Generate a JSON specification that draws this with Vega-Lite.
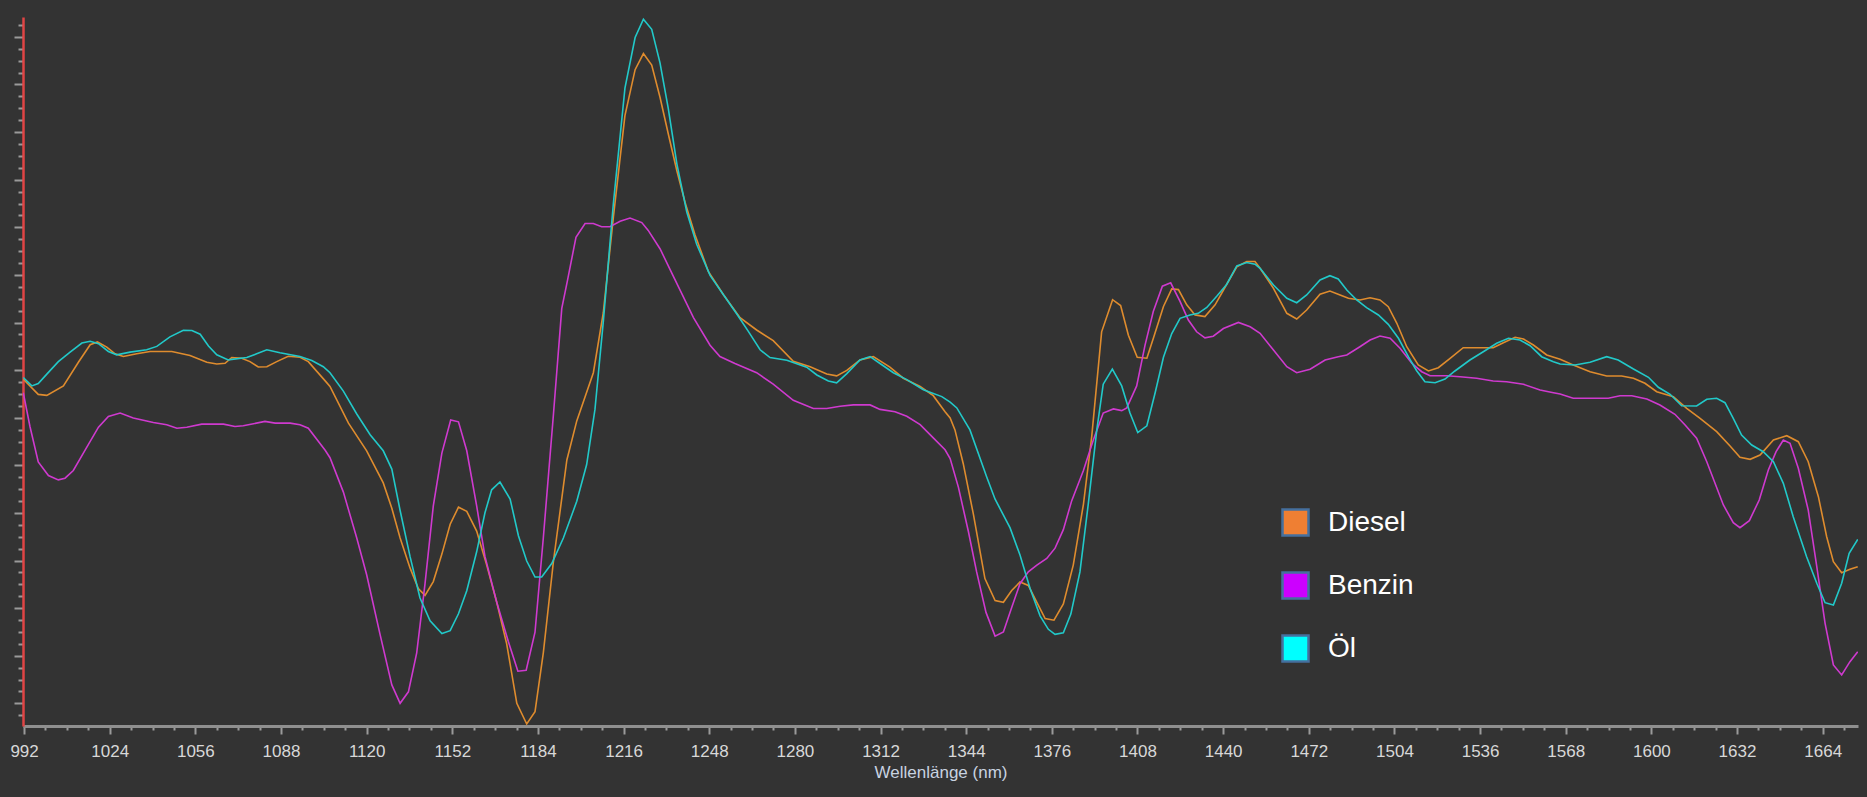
{
"$schema": "https://vega.github.io/schema/vega-lite/v6.json",
"width": 1835, "height": 709,
"autosize": {"type": "none"},
"padding": {"left": 23, "top": 17, "right": 9, "bottom": 71},
"background": "#333333",
"config": {"view": {"stroke": null}, "font": "Liberation Sans"},
"datasets": {
"diesel": [
{"w":991.7,"v":346.8},{"w":997.3,"v":331.6},{"w":1000.5,"v":330.6},{"w":1006.7,"v":340.1},{"w":1012.3,"v":363.7},{"w":1016.7,"v":381.3},{"w":1019.4,"v":384},{"w":1022.9,"v":378.9},{"w":1026,"v":372.2},{"w":1029.1,"v":369.5},{"w":1034.1,"v":372.2},{"w":1039.1,"v":374.5},{"w":1047.2,"v":374.5},{"w":1054,"v":370.5},{"w":1060.3,"v":363.7},{"w":1064,"v":362},{"w":1067.1,"v":362.7},{"w":1069.6,"v":368.5},{"w":1073.3,"v":367.8},{"w":1076.4,"v":364.4},{"w":1079.5,"v":359},{"w":1082.7,"v":359.3},{"w":1086.4,"v":364.4},{"w":1090.7,"v":369.8},{"w":1095.1,"v":368.8},{"w":1098.2,"v":364.4},{"w":1104.5,"v":345.1},{"w":1106.3,"v":339.5},{"w":1113.2,"v":302.8},{"w":1120,"v":275.2},{"w":1126.2,"v":243.1},{"w":1129.4,"v":217.8},{"w":1132.5,"v":188},{"w":1136.2,"v":158.1},{"w":1139.3,"v":137.5},{"w":1141.8,"v":130.6},{"w":1144.9,"v":144.4},{"w":1148.1,"v":171.9},{"w":1151.2,"v":201.8},{"w":1154.3,"v":218.8},{"w":1157.4,"v":214.6},{"w":1161.1,"v":194.9},{"w":1164.9,"v":160.4},{"w":1168.6,"v":123.7},{"w":1172.3,"v":82.4},{"w":1176.1,"v":22.7},{"w":1179.8,"v":2},{"w":1182.9,"v":14.4},{"w":1186,"v":73.2},{"w":1189.8,"v":165},{"w":1194.8,"v":266},{"w":1198.5,"v":305.1},{"w":1204.7,"v":353.3},{"w":1208.4,"v":413},{"w":1212.2,"v":509.4},{"w":1216.5,"v":610.4},{"w":1220.3,"v":656.3},{"w":1223.4,"v":672.4},{"w":1226.5,"v":660.9},{"w":1229.6,"v":628.8},{"w":1232.7,"v":592},{"w":1235.9,"v":555.3},{"w":1239,"v":523.2},{"w":1242.7,"v":491},{"w":1247.7,"v":454.3},{"w":1253.3,"v":431.3},{"w":1259.5,"v":408.4},{"w":1265.7,"v":396},{"w":1271.9,"v":385.4},{"w":1279.4,"v":364.8},{"w":1285.7,"v":359.3},{"w":1291.9,"v":351.9},{"w":1295.6,"v":350.1},{"w":1299.4,"v":355.6},{"w":1304.3,"v":366.1},{"w":1309.3,"v":369.4},{"w":1315.5,"v":358.8},{"w":1320.5,"v":347.8},{"w":1326.8,"v":339.5},{"w":1331.7,"v":330.3},{"w":1336.1,"v":314.3},{"w":1338,"v":308},{"w":1339.8,"v":296.1},{"w":1342.9,"v":262.3},{"w":1346.7,"v":211.6},{"w":1351,"v":147.4},{"w":1354.8,"v":125.4},{"w":1357.9,"v":123.7},{"w":1361,"v":135.5},{"w":1364.1,"v":144},{"w":1367.2,"v":140.6},{"w":1370.4,"v":123.7},{"w":1373.5,"v":107.5},{"w":1376.8,"v":105.8},{"w":1380.3,"v":122},{"w":1384,"v":160.9},{"w":1387.8,"v":221.7},{"w":1390.9,"v":289.4},{"w":1394.6,"v":394.2},{"w":1398.7,"v":426.3},{"w":1401.7,"v":420.5},{"w":1404.6,"v":390.8},{"w":1407.9,"v":368.8},{"w":1411.5,"v":367.8},{"w":1413.9,"v":387.4},{"w":1417.7,"v":419.5},{"w":1420.8,"v":437.1},{"w":1423.3,"v":436.4},{"w":1426.4,"v":421.2},{"w":1429.5,"v":411.1},{"w":1433.2,"v":409.4},{"w":1437,"v":421.2},{"w":1441.3,"v":441.5},{"w":1445.1,"v":459.1},{"w":1448.8,"v":464.5},{"w":1451.9,"v":464.5},{"w":1453.8,"v":457.7},{"w":1458.8,"v":437.7},{"w":1463.8,"v":412.7},{"w":1467.5,"v":407},{"w":1471.2,"v":416},{"w":1476.2,"v":431.7},{"w":1479.9,"v":435},{"w":1483.7,"v":431},{"w":1486.8,"v":427.7},{"w":1491.1,"v":426},{"w":1494.9,"v":428.3},{"w":1498.6,"v":426},{"w":1501.7,"v":419.3},{"w":1504.9,"v":402.7},{"w":1508.6,"v":379.3},{"w":1512.9,"v":361},{"w":1516.7,"v":355},{"w":1520.4,"v":358.3},{"w":1524.8,"v":367.7},{"w":1529.7,"v":378.3},{"w":1534.7,"v":378.3},{"w":1540.9,"v":378.3},{"w":1544.7,"v":383.3},{"w":1549.1,"v":388.7},{"w":1552.2,"v":387},{"w":1555.9,"v":381},{"w":1560.9,"v":371},{"w":1565.9,"v":366.7},{"w":1570.8,"v":361},{"w":1577.1,"v":354.3},{"w":1583.3,"v":350},{"w":1588.9,"v":350},{"w":1593.3,"v":347.7},{"w":1597.6,"v":342.7},{"w":1602,"v":334.3},{"w":1608.2,"v":329.3},{"w":1613.2,"v":317.7},{"w":1618.2,"v":307.7},{"w":1624.4,"v":294.3},{"w":1629.4,"v":280},{"w":1633.1,"v":268.7},{"w":1636.9,"v":266.7},{"w":1640.6,"v":271},{"w":1645.6,"v":286},{"w":1650.6,"v":290.3},{"w":1654.9,"v":284.3},{"w":1658.6,"v":264.3},{"w":1662.4,"v":229.3},{"w":1665.5,"v":189.3},{"w":1668,"v":164.3},{"w":1671.1,"v":153.3},{"w":1674.2,"v":156.7},{"w":1677.1,"v":159.3}
],
"benzin": [
{"w":991.7,"v":333.3},{"w":994.2,"v":299.5},{"w":997.3,"v":264},{"w":1001.1,"v":250.5},{"w":1004.8,"v":246.1},{"w":1007.3,"v":247.8},{"w":1010.4,"v":255.5},{"w":1014.8,"v":275.8},{"w":1019.8,"v":298.8},{"w":1023.5,"v":309.6},{"w":1027.9,"v":313},{"w":1032.8,"v":307.9},{"w":1040.3,"v":303.5},{"w":1045.3,"v":301.2},{"w":1049.1,"v":297.8},{"w":1052.8,"v":298.8},{"w":1058.4,"v":301.9},{"w":1066.5,"v":301.9},{"w":1070.8,"v":299.5},{"w":1073.9,"v":300.2},{"w":1077.7,"v":302.2},{"w":1082,"v":304.6},{"w":1085.8,"v":302.9},{"w":1091.4,"v":302.9},{"w":1095.1,"v":301.2},{"w":1098.2,"v":297.8},{"w":1104.5,"v":275.8},{"w":1106.3,"v":268.3},{"w":1111.3,"v":233.9},{"w":1116.3,"v":188},{"w":1120,"v":151.3},{"w":1125,"v":91.6},{"w":1129.4,"v":41.1},{"w":1132.5,"v":22.7},{"w":1135.6,"v":34.2},{"w":1138.7,"v":73.2},{"w":1141.8,"v":142.1},{"w":1144.9,"v":220.1},{"w":1148.1,"v":272.9},{"w":1151.4,"v":306},{"w":1154.3,"v":304.2},{"w":1157.4,"v":275.2},{"w":1161.1,"v":220.1},{"w":1164.2,"v":169.6},{"w":1168.6,"v":123.7},{"w":1172.9,"v":84.7},{"w":1176.5,"v":54.8},{"w":1179.6,"v":55.7},{"w":1182.9,"v":93.9},{"w":1186,"v":188},{"w":1189.8,"v":312},{"w":1192.9,"v":417.6},{"w":1195,"v":445.1},{"w":1198.2,"v":488.7},{"w":1201.6,"v":502.5},{"w":1204.7,"v":502.5},{"w":1207.8,"v":499.3},{"w":1210.9,"v":499.3},{"w":1214.7,"v":504.8},{"w":1218.4,"v":508},{"w":1222.8,"v":503.4},{"w":1225.2,"v":495.6},{"w":1229.6,"v":477.3},{"w":1234.6,"v":449.7},{"w":1242.1,"v":408.4},{"w":1248.3,"v":380.8},{"w":1252,"v":369.4},{"w":1257.6,"v":362.5},{"w":1265.7,"v":353.3},{"w":1271.9,"v":341.8},{"w":1279.4,"v":325.7},{"w":1286.9,"v":317.5},{"w":1291.9,"v":317.5},{"w":1296.9,"v":319.8},{"w":1301.8,"v":321.1},{"w":1308.1,"v":321.1},{"w":1311.8,"v":316.6},{"w":1317.4,"v":314.3},{"w":1321.8,"v":309.7},{"w":1326.8,"v":301.4},{"w":1331.7,"v":288.1},{"w":1336.1,"v":276.2},{"w":1338,"v":267.4},{"w":1341.1,"v":238.6},{"w":1344.8,"v":194.7},{"w":1347.9,"v":154.1},{"w":1351.4,"v":113.6},{"w":1354.8,"v":89.9},{"w":1357.9,"v":94},{"w":1361,"v":118.6},{"w":1364.1,"v":142.3},{"w":1367.2,"v":154.1},{"w":1370.4,"v":160.9},{"w":1374.1,"v":167.6},{"w":1377.2,"v":177.8},{"w":1380.3,"v":196.4},{"w":1383.4,"v":225.1},{"w":1387.8,"v":255.5},{"w":1391.5,"v":286},{"w":1395.2,"v":313},{"w":1399,"v":317.1},{"w":1402.1,"v":315.4},{"w":1404,"v":318.1},{"w":1407.7,"v":340.1},{"w":1410.8,"v":380.6},{"w":1413.9,"v":414.4},{"w":1417.3,"v":439.8},{"w":1420.4,"v":443.2},{"w":1423.9,"v":424.6},{"w":1427,"v":406},{"w":1430.1,"v":394.2},{"w":1433.2,"v":388.1},{"w":1436.3,"v":389.8},{"w":1440.1,"v":397.5},{"w":1445.7,"v":403.6},{"w":1450.1,"v":399.2},{"w":1453.8,"v":392.7},{"w":1458.8,"v":376},{"w":1463.8,"v":359.3},{"w":1467.5,"v":353.3},{"w":1472.5,"v":356.7},{"w":1478.1,"v":366},{"w":1483,"v":369.3},{"w":1486.2,"v":371},{"w":1491.1,"v":379.3},{"w":1494.9,"v":386},{"w":1498.6,"v":390},{"w":1502.4,"v":387.7},{"w":1506.1,"v":377.7},{"w":1510.5,"v":362.7},{"w":1514.2,"v":354.3},{"w":1517.3,"v":350.3},{"w":1523.5,"v":350.3},{"w":1528.5,"v":349.3},{"w":1534.7,"v":347.7},{"w":1540.9,"v":345},{"w":1545.9,"v":344.3},{"w":1552.2,"v":341.7},{"w":1558.4,"v":336},{"w":1563.4,"v":333.3},{"w":1565.9,"v":332},{"w":1570.8,"v":327.7},{"w":1578.3,"v":327.7},{"w":1583.9,"v":327.7},{"w":1588.3,"v":330.3},{"w":1592.7,"v":330.3},{"w":1598.3,"v":327},{"w":1603.2,"v":321},{"w":1608.8,"v":311.7},{"w":1612.6,"v":301},{"w":1616.9,"v":287.7},{"w":1620.7,"v":264.3},{"w":1626.9,"v":221},{"w":1630.6,"v":203.3},{"w":1633.1,"v":198.3},{"w":1636.6,"v":205.3},{"w":1640.3,"v":226},{"w":1643.7,"v":256},{"w":1646.6,"v":274.3},{"w":1649.3,"v":286},{"w":1651.8,"v":282.7},{"w":1654.9,"v":257.7},{"w":1658.6,"v":216},{"w":1661.8,"v":159.3},{"w":1664.9,"v":102.7},{"w":1668,"v":61},{"w":1671.1,"v":51},{"w":1674.2,"v":64.3},{"w":1677.1,"v":74.3}
],
"oel": [
{"w":991.7,"v":348.5},{"w":994.9,"v":340.1},{"w":997.3,"v":342.4},{"w":1000.5,"v":351.9},{"w":1004.8,"v":364.4},{"w":1009.2,"v":373.9},{"w":1013.6,"v":383},{"w":1016.7,"v":384.7},{"w":1019.8,"v":382.3},{"w":1023.5,"v":374.5},{"w":1026.6,"v":371.2},{"w":1031.6,"v":373.9},{"w":1037.8,"v":376.2},{"w":1041.6,"v":379.6},{"w":1046.5,"v":389.1},{"w":1051.5,"v":395.8},{"w":1054.7,"v":395.5},{"w":1057.8,"v":391.8},{"w":1060.9,"v":380},{"w":1064,"v":371.2},{"w":1068.3,"v":366.1},{"w":1075.2,"v":368.5},{"w":1078.9,"v":372.2},{"w":1082.7,"v":376.2},{"w":1087.6,"v":373.2},{"w":1095.1,"v":369.5},{"w":1099.5,"v":365.4},{"w":1103.8,"v":359.3},{"w":1106.3,"v":353.3},{"w":1111.3,"v":334.9},{"w":1116.3,"v":312},{"w":1121.3,"v":291.3},{"w":1126.2,"v":275.2},{"w":1129.4,"v":256.9},{"w":1132.5,"v":215.5},{"w":1136.2,"v":169.6},{"w":1139.9,"v":128.3},{"w":1143.7,"v":105.3},{"w":1148.1,"v":92.5},{"w":1151.2,"v":95.3},{"w":1154.3,"v":112.2},{"w":1157.4,"v":135.2},{"w":1161.1,"v":174.2},{"w":1164.2,"v":213.2},{"w":1166.7,"v":236.2},{"w":1169.8,"v":244},{"w":1173.6,"v":227},{"w":1176.7,"v":190.3},{"w":1179.8,"v":165},{"w":1182.9,"v":149},{"w":1185.4,"v":149},{"w":1189.2,"v":162.7},{"w":1193.5,"v":188},{"w":1198.5,"v":224.7},{"w":1202.2,"v":261.5},{"w":1205.3,"v":316.6},{"w":1208.4,"v":403.8},{"w":1212.2,"v":523.2},{"w":1216.5,"v":637.9},{"w":1220.3,"v":688.5},{"w":1223.4,"v":706.8},{"w":1226.5,"v":696.7},{"w":1229.6,"v":663.2},{"w":1232.7,"v":617.3},{"w":1235.9,"v":562.2},{"w":1239.6,"v":514},{"w":1243.3,"v":481.8},{"w":1248.3,"v":450.6},{"w":1253.9,"v":429},{"w":1258.3,"v":412},{"w":1262.6,"v":394.6},{"w":1267,"v":376.2},{"w":1270.7,"v":368.4},{"w":1277,"v":365.7},{"w":1284.4,"v":358.8},{"w":1288.2,"v":351},{"w":1292.5,"v":345},{"w":1295.6,"v":343.2},{"w":1299.4,"v":352.4},{"w":1304.3,"v":366.1},{"w":1308.1,"v":369.4},{"w":1311.8,"v":362.5},{"w":1316.8,"v":353.3},{"w":1321.8,"v":346.4},{"w":1328,"v":336.3},{"w":1334.9,"v":329.4},{"w":1338,"v":323.8},{"w":1340.5,"v":318.1},{"w":1345.4,"v":296.1},{"w":1351.7,"v":248.8},{"w":1354.8,"v":226.8},{"w":1360.4,"v":198.1},{"w":1364.1,"v":171},{"w":1367.9,"v":137.2},{"w":1371.6,"v":110.2},{"w":1374.7,"v":96.7},{"w":1377.2,"v":91.6},{"w":1380.3,"v":93.3},{"w":1383.1,"v":111.9},{"w":1386.5,"v":154.1},{"w":1389.6,"v":221.7},{"w":1392.8,"v":296.1},{"w":1395.2,"v":341.8},{"w":1398.6,"v":357},{"w":1402.1,"v":340.1},{"w":1405.2,"v":313},{"w":1408.1,"v":293.4},{"w":1411.5,"v":300.2},{"w":1414.6,"v":333.3},{"w":1417.7,"v":368.8},{"w":1420.8,"v":392.5},{"w":1423.9,"v":407.7},{"w":1427.6,"v":411.1},{"w":1430.7,"v":412.7},{"w":1433.9,"v":418.5},{"w":1437.6,"v":429.7},{"w":1441.3,"v":441.5},{"w":1445.1,"v":460.1},{"w":1448.8,"v":463.5},{"w":1451.9,"v":461.8},{"w":1453.8,"v":457.7},{"w":1458.8,"v":441},{"w":1463.8,"v":427.7},{"w":1467.5,"v":423.3},{"w":1471.2,"v":431},{"w":1476.2,"v":446},{"w":1479.9,"v":450.3},{"w":1483,"v":447},{"w":1486.2,"v":436},{"w":1489.9,"v":426},{"w":1493.6,"v":418.3},{"w":1498,"v":411},{"w":1501.7,"v":401.7},{"w":1505.5,"v":387.7},{"w":1509.2,"v":369.3},{"w":1512.3,"v":355.3},{"w":1515.4,"v":344.3},{"w":1519.2,"v":343.3},{"w":1522.9,"v":347},{"w":1526.6,"v":355},{"w":1532.2,"v":366},{"w":1537.2,"v":374.3},{"w":1542.2,"v":382.7},{"w":1546.6,"v":387.7},{"w":1550.9,"v":386},{"w":1554.7,"v":380.3},{"w":1559,"v":369.3},{"w":1563.4,"v":364.3},{"w":1565.9,"v":362},{"w":1571.5,"v":361},{"w":1577.1,"v":363.7},{"w":1583.3,"v":369.3},{"w":1587.6,"v":366},{"w":1593.3,"v":357},{"w":1598.9,"v":348.7},{"w":1602.6,"v":338.7},{"w":1607,"v":331.7},{"w":1611.3,"v":320.3},{"w":1616.9,"v":320},{"w":1620.7,"v":326.7},{"w":1624.4,"v":327.7},{"w":1627.5,"v":323.3},{"w":1630.6,"v":307.7},{"w":1633.7,"v":291},{"w":1637.5,"v":281},{"w":1641.8,"v":274.3},{"w":1645.6,"v":264.3},{"w":1649.3,"v":242.7},{"w":1653,"v":209.3},{"w":1658,"v":169.3},{"w":1661.8,"v":142.7},{"w":1664.9,"v":123.3},{"w":1668,"v":121},{"w":1671.1,"v":142.7},{"w":1673.9,"v":172.7},{"w":1677.1,"v":186.7}
],
"legendrows": [{"s":"Diesel"},{"s":"Benzin"},{"s":"Öl"}]
},
"encoding": {
  "x": {"field": "w", "type": "quantitative",
    "scale": {"domain": [991.6, 1677.2], "nice": false, "zero": false},
    "axis": {
      "values": [992,1000,1008,1016,1024,1032,1040,1048,1056,1064,1072,1080,1088,1096,1104,1112,1120,1128,1136,1144,1152,1160,1168,1176,1184,1192,1200,1208,1216,1224,1232,1240,1248,1256,1264,1272,1280,1288,1296,1304,1312,1320,1328,1336,1344,1352,1360,1368,1376,1384,1392,1400,1408,1416,1424,1432,1440,1448,1456,1464,1472,1480,1488,1496,1504,1512,1520,1528,1536,1544,1552,1560,1568,1576,1584,1592,1600,1608,1616,1624,1632,1640,1648,1656,1664,1672],
      "format": "d",
      "labelExpr": "(datum.value - 992) % 32 === 0 ? datum.label : ''",
      "labelOverlap": false, "labelFlush": false,
      "labelFont": "Liberation Sans", "labelFontSize": 17, "labelColor": "#d8d8d8", "labelPadding": 9,
      "tickColor": "#9a9a9a", "tickWidth": 2,
      "tickSize": {"condition": {"test": "(datum.value - 992) % 32 === 0", "value": 8}, "value": 4},
      "domainColor": "#8f8f8f", "domainWidth": 3, "grid": false,
      "title": "Wellenlänge (nm)", "titleFont": "Liberation Sans", "titleFontSize": 17, "titleFontWeight": "normal", "titleColor": "#c8d2e0", "titlePadding": 5
    }},
  "y": {"field": "v", "type": "quantitative",
    "scale": {"domain": [0, 709], "nice": false, "zero": false},
    "axis": {
      "values": [10.8,22.7,34.6,46.5,58.4,70.3,82.2,94.1,106,117.9,129.8,141.7,153.6,165.5,177.4,189.3,201.2,213.1,225,236.9,248.8,260.7,272.6,284.5,296.4,308.3,320.2,332.1,344,355.9,367.8,379.7,391.6,403.5,415.4,427.3,439.2,451.1,463,474.9,486.8,498.7,510.6,522.5,534.4,546.3,558.2,570.1,582,593.9,605.8,617.7,629.6,641.5,653.4,665.3,677.2,689.1,701],
      "labels": false, "title": null, "grid": false,
      "domainColor": "#e04545", "domainWidth": 2.5,
      "tickColor": "#9a9a9a", "tickWidth": 2,
      "tickSize": {"condition": {"test": "abs((datum.value - 22.7) / 47.6 - round((datum.value - 22.7) / 47.6)) < 0.05", "value": 9}, "value": 5}
    }}
},
"layer": [
  {"data": {"name": "diesel"}, "mark": {"type": "line", "color": "#df8c2e", "strokeWidth": 1.6, "clip": true}},
  {"data": {"name": "benzin"}, "mark": {"type": "line", "color": "#cf3acf", "strokeWidth": 1.6, "clip": true}},
  {"data": {"name": "oel"}, "mark": {"type": "line", "color": "#22c9c9", "strokeWidth": 1.6, "clip": true}},
  {"data": {"name": "legendrows"}, "transform": [{"filter": "false"}],
   "mark": {"type": "point", "shape": "square", "filled": true, "opacity": 1},
   "encoding": {
     "fill": {"field": "s", "type": "nominal",
       "scale": {"domain": ["Diesel", "Benzin", "Öl"], "range": ["#ef7f33", "#cc00ff", "#00ffff"]},
       "legend": {"orient": "none", "legendX": 1258, "legendY": 491, "title": null, "padding": 0,
         "symbolType": "square", "symbolSize": 676, "symbolStrokeColor": "#45709f", "symbolStrokeWidth": 2.5, "symbolOpacity": 1,
         "labelFont": "Liberation Sans", "labelFontSize": 28, "labelColor": "#ffffff", "labelOffset": 18, "rowPadding": 26}}
   }},
  {"data": {"values": [{}]}, "mark": {"type": "rule", "color": "#e04545", "strokeWidth": 2.5},
   "encoding": {"x": {"datum": 1677.2}, "y": null}}
]
}
